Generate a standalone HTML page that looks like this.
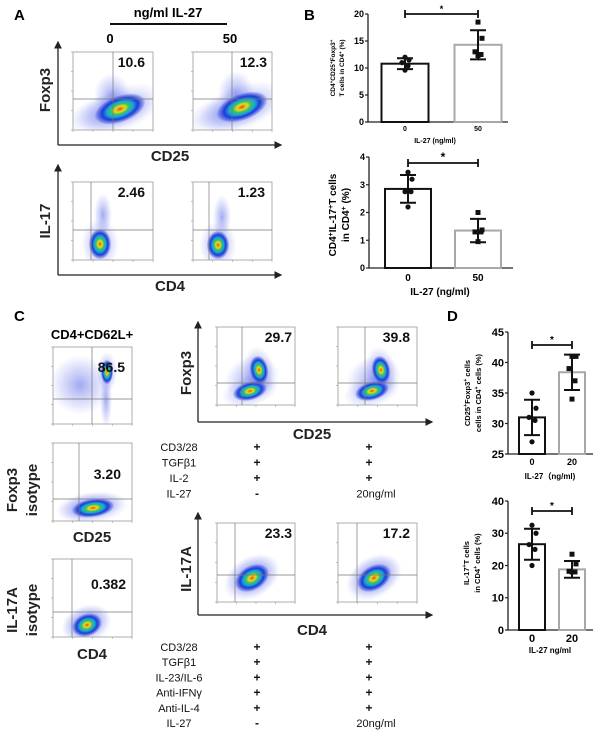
<!DOCTYPE html>
<html><head><meta charset="utf-8">
<style>
html,body{margin:0;padding:0;background:#fff;}
body{width:603px;height:738px;overflow:hidden;position:relative;font-family:"Liberation Sans",Arial,sans-serif;}
svg{position:absolute;left:0;top:0;}
text{font-family:"Liberation Sans",Arial,sans-serif;}
</style></head>
<body>
<svg id="fig" width="603" height="738" viewBox="0 0 603 738">
<defs>
<radialGradient id="dens">
<stop offset="0" stop-color="#e0301c"/>
<stop offset="0.1" stop-color="#f29a1c"/>
<stop offset="0.22" stop-color="#d8e020"/>
<stop offset="0.36" stop-color="#3cc060"/>
<stop offset="0.52" stop-color="#1aa8d8"/>
<stop offset="0.72" stop-color="#1c3ad8"/>
<stop offset="1" stop-color="#3344d8" stop-opacity="0.15"/>
</radialGradient>
<radialGradient id="halo">
<stop offset="0" stop-color="#3040e0" stop-opacity="0.45"/>
<stop offset="0.6" stop-color="#5060e8" stop-opacity="0.2"/>
<stop offset="1" stop-color="#6070f0" stop-opacity="0"/>
</radialGradient>
<marker id="arr" markerWidth="6" markerHeight="6" refX="5" refY="3" orient="auto"><path d="M0,0 L6,3 L0,6 z" fill="#222"/></marker>
</defs>
<g id="flow"></g>
<g id="labels">
<text x="14" y="20" font-size="15" font-weight="bold">A</text>
<text x="168" y="17" font-size="13" font-weight="bold" text-anchor="middle">ng/ml IL-27</text>
<line x1="110" y1="24" x2="227" y2="24" stroke="#111" stroke-width="2"/>
<text x="110" y="43" font-size="13" font-weight="bold" text-anchor="middle">0</text>
<text x="230" y="43" font-size="13" font-weight="bold" text-anchor="middle">50</text>
<text x="304" y="20" font-size="15" font-weight="bold">B</text>
<text x="14" y="321" font-size="15" font-weight="bold">C</text>
<text x="447" y="321" font-size="15" font-weight="bold">D</text>
<text x="92" y="339" font-size="13" font-weight="bold" text-anchor="middle">CD4+CD62L+</text>
</g>
<g id="charts"></g>
<g id="tables"></g>
</svg>
<script>
// ===== Bar chart data =====
const bTopCats = ["0","50"];
const bTopMeans = [10.8, 14.3];
const bTopSD = [1.0, 2.7];
const bTopPts0 = [12.0, 11.5, 11.0, 10.4, 9.6];
const bTopPts1 = [18.5, 15.5, 13.0, 12.5, 12.3];
const bTopTicks = [0,5,10,15,20];

const bBotCats = ["0","50"];
const bBotMeans = [2.85, 1.35];
const bBotSD = [0.5, 0.42];
const bBotPts0 = [3.45, 3.2, 2.75, 2.75, 2.2];
const bBotPts1 = [2.0, 1.37, 1.3, 1.3, 0.95];
const bBotTicks = [0,1,2,3,4];

const dTopCats = ["0","20"];
const dTopMeans = [31.0, 38.4];
const dTopSD = [2.9, 2.9];
const dTopPts0 = [35.0, 32.5, 31.0, 30.5, 27.0];
const dTopPts1 = [41.0, 41.0, 39.0, 37.0, 34.0];
const dTopTicks = [25,30,35,40,45];

const dBotCats = ["0","20"];
const dBotMeans = [26.6, 18.8];
const dBotSD = [4.8, 2.6];
const dBotPts0 = [32.5, 30.0, 26.5, 25.0, 20.0];
const dBotPts1 = [23.5, 20.5, 18.2, 18.0, 18.0];
const dBotTicks = [0,10,20,30,40];

const NS = "http://www.w3.org/2000/svg";
function mk(tag, attrs, parent){
  const e = document.createElementNS(NS, tag);
  for (const k in attrs) e.setAttribute(k, attrs[k]);
  parent.appendChild(e);
  return e;
}
const charts = document.getElementById('charts');

function barChart(cfg, cats, means, sds, pts0, pts1, ticks, prefix){
  const g = mk('g', {}, charts);
  
  
  const lo = ticks[0], hi = ticks[ticks.length-1];
  const y = v => cfg.yBot - (v - lo) / (hi - lo) * (cfg.yBot - cfg.yTop);
  const ax = mk('path', {d:`M${cfg.ax},${cfg.yTop} L${cfg.ax},${cfg.yBot} L${cfg.axEnd},${cfg.yBot}`, fill:'none', stroke:'#222', 'stroke-width':1.3}, g);
  
  
  ticks.forEach(t => {
    mk('line', {x1:cfg.ax-3, x2:cfg.ax, y1:y(t), y2:y(t), stroke:'#222', 'stroke-width':1.2}, g);
    const tl = mk('text', {x:cfg.ax-4, y:y(t)+cfg.tfs*0.36, 'font-size':cfg.tfs, 'font-weight':'bold', 'text-anchor':'end'}, g);
    tl.textContent = t;
    
    
  });
  const allPts = [pts0, pts1];
  cats.forEach((c, i) => {
    const cx = cfg.centers[i];
    const bar = mk('rect', {x:cx-cfg.bw/2, y:y(means[i]), width:cfg.bw, height:cfg.yBot-y(means[i]), fill:'#fff', stroke: i===0?'#111':'#a8a8a8', 'stroke-width':2}, g);
    
    
    const eb = mk('path', {d:`M${cx},${y(means[i]-sds[i])} L${cx},${y(means[i]+sds[i])} M${cx-8},${y(means[i]+sds[i])} L${cx+8},${y(means[i]+sds[i])} M${cx-8},${y(means[i]-sds[i])} L${cx+8},${y(means[i]-sds[i])}`, stroke:'#111', 'stroke-width':2, fill:'none'}, g);
    
    
    const offs = [0, 4, -3, 3, 0];
    allPts[i].forEach((v, j) => {
      let p;
      if (i === 0) p = mk('circle', {cx:cx+offs[j], cy:y(v), r:2.6, fill:'#111'}, g);
      else p = mk('rect', {x:cx+offs[j]-2.5, y:y(v)-2.5, width:5, height:5, fill:'#111'}, g);
      
      
    });
    const xl = mk('text', {x:cx, y:cfg.xly, 'font-size':cfg.xfs, 'font-weight':'bold', 'text-anchor':'middle'}, g);
    xl.textContent = c;
    
    
  });
  const sig = mk('path', {d:`M${cfg.centers[0]},${cfg.sigY-4} L${cfg.centers[0]},${cfg.sigY+4} M${cfg.centers[0]},${cfg.sigY} L${cfg.centers[1]},${cfg.sigY} M${cfg.centers[1]},${cfg.sigY-4} L${cfg.centers[1]},${cfg.sigY+4}`, stroke:'#111', 'stroke-width':1.8, fill:'none'}, g);
  
  
  const st = mk('text', {x:(cfg.centers[0]+cfg.centers[1])/2, y:cfg.sigY-2, 'font-size':cfg.starfs, 'font-weight':'bold', 'text-anchor':'middle'}, g);
  st.textContent = '*';
  
  
  const xt = mk('text', {x:cfg.xtX, y:cfg.xty, 'font-size':cfg.xtfs, 'font-weight':'bold', 'text-anchor':'middle'}, g);
  xt.textContent = cfg.xtitle;
  
  
  cfg.ytitle.forEach((line, k) => {
    const tx = cfg.ytX + k * cfg.ytGap;
    const yt = mk('text', {x:tx, y:cfg.ytY, 'font-size':cfg.ytfs, 'font-weight':'bold', 'text-anchor':'middle', transform:`rotate(-90 ${tx} ${cfg.ytY})`}, g);
    yt.innerHTML = line;
    
    
  });
}
const sup = s => `<tspan baseline-shift="super" font-size="70%">${s}</tspan>`;

barChart({ax:368, axEnd:508, yTop:14, yBot:122, centers:[405,478], bw:47, tfs:9, xly:131, xfs:7, sigY:14, starfs:9,
  xtX:435, xty:143, xtfs:7, xtitle:'IL-27 (ng/ml)', ytX:335, ytY:68, ytGap:9, ytfs:6.5,
  ytitle:[`CD4${sup('+')}CD25${sup('+')}Foxp3${sup('+')}`, `T cells in CD4${sup('+')} (%)`]},
  bTopCats, bTopMeans, bTopSD, bTopPts0, bTopPts1, bTopTicks, 'b-treg');

barChart({ax:369, axEnd:513, yTop:157, yBot:268, centers:[408,478], bw:46, tfs:9, xly:281, xfs:10, sigY:163, starfs:12,
  xtX:440, xty:295, xtfs:10, xtitle:'IL-27 (ng/ml)', ytX:336, ytY:215, ytGap:13, ytfs:10,
  ytitle:[`CD4${sup('+')}IL-17${sup('+')}T cells`, `in CD4${sup('+')} (%)`]},
  bBotCats, bBotMeans, bBotSD, bBotPts0, bBotPts1, bBotTicks, 'b-th17');

barChart({ax:508, axEnd:593, yTop:332, yBot:454, centers:[532,572], bw:26, tfs:11, xly:465, xfs:9, sigY:345, starfs:10,
  xtX:550, xty:479, xtfs:8, xtitle:'IL-27（ng/ml)', ytX:470, ytY:393, ytGap:11, ytfs:7.5,
  ytitle:[`CD25${sup('+')}Foxp3${sup('+')} cells`, `cells in CD4${sup('+')} cells (%)`]},
  dTopCats, dTopMeans, dTopSD, dTopPts0, dTopPts1, dTopTicks, 'd-treg');

barChart({ax:508, axEnd:593, yTop:501, yBot:630, centers:[532,572], bw:26, tfs:11, xly:642, xfs:11, sigY:511, starfs:10,
  xtX:550, xty:653, xtfs:8, xtitle:'IL-27 ng/ml', ytX:469, ytY:563, ytGap:11, ytfs:7.5,
  ytitle:[`IL-17${sup('+')}T cells`, `in CD4${sup('+')} cells (%)`]},
  dBotCats, dBotMeans, dBotSD, dBotPts0, dBotPts1, dBotTicks, 'd-th17');

// ===== Flow cytometry plots =====
const flow = document.getElementById('flow');
function flowPlot(name, x, y, w, h, qx, qy, blobs, num, nx, ny){
  const g = mk('g', {}, flow);
  
  
  const cp = mk('clipPath', {id:'cp-'+name}, g);
  mk('rect', {x:x, y:y, width:w, height:h}, cp);
  const inner = mk('g', {'clip-path':`url(#cp-${name})`}, g);
  blobs.forEach(b => {
    if (b[5] === 'h') {
      mk('ellipse', {cx:b[0], cy:b[1], rx:b[2], ry:b[3], fill:'url(#halo)', transform:`rotate(${b[4]} ${b[0]} ${b[1]})`}, inner);
    } else {
      mk('ellipse', {cx:b[0], cy:b[1], rx:b[2]*1.7, ry:b[3]*1.7, fill:'url(#halo)', transform:`rotate(${b[4]} ${b[0]} ${b[1]})`}, inner);
      mk('ellipse', {cx:b[0], cy:b[1], rx:b[2], ry:b[3], fill:'url(#dens)', transform:`rotate(${b[4]} ${b[0]} ${b[1]})`}, inner);
    }
  });
  const box = mk('rect', {x:x, y:y, width:w, height:h, fill:'none', stroke:'#999', 'stroke-width':0.8}, g);
  
  
  mk('line', {x1:qx, x2:qx, y1:y, y2:y+h, stroke:'#777', 'stroke-width':0.7}, g);
  mk('line', {x1:x, x2:x+w, y1:qy, y2:qy, stroke:'#777', 'stroke-width':0.7}, g);
  for (let i = 0; i < 5; i++){
    mk('line', {x1:x+w*i/4, x2:x+w*i/4, y1:y+h, y2:y+h+2, stroke:'#999', 'stroke-width':0.6}, g);
    mk('line', {x1:x-2, x2:x, y1:y+h*i/4, y2:y+h*i/4, stroke:'#999', 'stroke-width':0.6}, g);
  }
  const t = mk('text', {x:nx, y:ny, 'font-size':14, 'font-weight':'bold', 'text-anchor':'end', fill:'#111'}, g);
  t.textContent = num;
  
  
}
flowPlot('a-treg-0', 73, 52, 80, 78, 113, 99, [[112,95,18,22,0,'h'],[110,112,44,18,-15,'h'],[120,109,26,13,-20]], '10.6', 145, 67);
flowPlot('a-treg-50', 193, 52, 79, 78, 232, 99, [[236,93,18,22,0,'h'],[230,112,44,18,-15,'h'],[242,107,26,13,-20]], '12.3', 267, 67);
flowPlot('a-th17-0', 73, 182, 80, 78, 91, 230, [[103,215,9,22,0,'h'],[100,244,11,15,0]], '2.46', 145, 197);
flowPlot('a-th17-50', 193, 182, 79, 78, 209, 230, [[222,217,9,22,0,'h'],[218,245,11,14,0]], '1.23', 265, 197);
flowPlot('c-naive', 53, 347, 79, 77, 92, 399, [[80,385,30,30,0,'h'],[106,400,6,28,0,'h'],[107,372,6,12,0]], '86.5', 125, 372);
flowPlot('c-foxp3-isotype', 53, 443, 79, 78, 79, 499, [[90,506,34,14,-8,'h'],[93,508,21,9,-8]], '3.20', 121, 479);
flowPlot('c-il17a-isotype', 53, 559, 79, 78, 72, 612, [[86,622,25,17,-20,'h'],[87,625,15,11,-20]], '0.382', 126, 589);
flowPlot('c-treg-ctrl', 217, 327, 78, 78, 242, 383, [[252,378,28,22,-20,'h'],[250,391,17,9,-15],[259,370,9,14,-10]], '29.7', 292, 342);
flowPlot('c-treg-il27', 338, 327, 79, 78, 365, 383, [[374,378,28,22,-20,'h'],[372,391,17,9,-15],[381,370,9,14,-10]], '39.8', 410, 342);
flowPlot('c-th17-ctrl', 217, 523, 78, 79, 235, 575, [[252,576,28,20,-30,'h'],[252,578,18,12,-30]], '23.3', 292, 538);
flowPlot('c-th17-il27', 338, 523, 79, 79, 357, 575, [[374,576,28,20,-30,'h'],[374,578,18,12,-30]], '17.2', 410, 538);

// axes arrows and labels
function arrowAxes(name, vx, vTop, hy, hEnd){
  const p = mk('path', {d:`M${vx},${hy} L${vx},${vTop}`, stroke:'#222', 'stroke-width':1.3, 'marker-end':'url(#arr)'}, flow);
  
  
  const q = mk('path', {d:`M${vx},${hy} L${hEnd},${hy}`, stroke:'#222', 'stroke-width':1.3, 'marker-end':'url(#arr)'}, flow);
  
  
}
arrowAxes('a-treg', 58, 42, 145, 281);
arrowAxes('a-th17', 58, 165, 275, 281);
arrowAxes('c-treg', 198, 322, 422, 432);
arrowAxes('c-th17', 198, 513, 615, 432);

function lbl(name, txt, x, y, size, rot){
  const t = mk('text', {x:x, y:y, 'font-size':size, 'font-weight':'bold', 'text-anchor':'middle', fill:'#222'}, flow);
  if (rot) t.setAttribute('transform', `rotate(-90 ${x} ${y})`);
  t.textContent = txt;
  
  
}
lbl('a-foxp3-label', 'Foxp3', 50, 90, 15, true);
lbl('a-cd25-label', 'CD25', 170, 161, 15, false);
lbl('a-il17-label', 'IL-17', 50, 221, 15, true);
lbl('a-cd4-label', 'CD4', 170, 291, 15, false);
lbl('c-foxp3-isotype-label-1', 'Foxp3', 17, 490, 15, true);
lbl('c-foxp3-isotype-label-2', 'isotype', 37, 490, 15, true);
lbl('c-cd25-label', 'CD25', 92, 542, 15, false);
lbl('c-il17a-isotype-label-1', 'IL-17A', 17, 610, 15, true);
lbl('c-il17a-isotype-label-2', 'isotype', 37, 610, 15, true);
lbl('c-cd4-label', 'CD4', 92, 659, 15, false);
lbl('c-foxp3-label', 'Foxp3', 191, 373, 15, true);
lbl('c-cd25-label-right', 'CD25', 312, 439, 15, false);
lbl('c-il17a-label', 'IL-17A', 191, 569, 15, true);
lbl('c-cd4-label-right', 'CD4', 312, 635, 15, false);

// ===== condition tables =====
const tables = document.getElementById('tables');
const tregRows = ["CD3/28","TGFβ1","IL-2","IL-27"];
const tregCtrl = ["+","+","+","-"];
const tregIl27 = ["+","+","+","20ng/ml"];
const th17Rows = ["CD3/28","TGFβ1","IL-23/IL-6","Anti-IFNγ","Anti-IL-4","IL-27"];
const th17Ctrl = ["+","+","+","+","+","-"];
const th17Il27 = ["+","+","+","+","+","20ng/ml"];
function table(name, rows, c1, c2, y0, dy){
  rows.forEach((r, i) => {
    const yy = y0 + i*dy;
    const a = mk('text', {x:179, y:yy, 'font-size':11, 'text-anchor':'middle', fill:'#111'}, tables);
    a.textContent = r;
    
    
    const b = mk('text', {x:257, y:yy, 'font-size':12, 'font-weight':'bold', 'text-anchor':'middle', fill:'#111'}, tables);
    b.textContent = c1[i];
    
    
    const c = mk('text', {x: c2[i].length>1 ? 376 : 369, y:yy, 'font-size': c2[i].length>1 ? 11 : 12, 'font-weight': c2[i].length>1 ? 'normal':'bold', 'text-anchor':'middle', fill:'#111'}, tables);
    c.textContent = c2[i];
    
    
  });
}
table('treg-conditions', tregRows, tregCtrl, tregIl27, 451, 15.5);
table('th17-conditions', th17Rows, th17Ctrl, th17Il27, 651, 15.2);
</script>
</body></html>
